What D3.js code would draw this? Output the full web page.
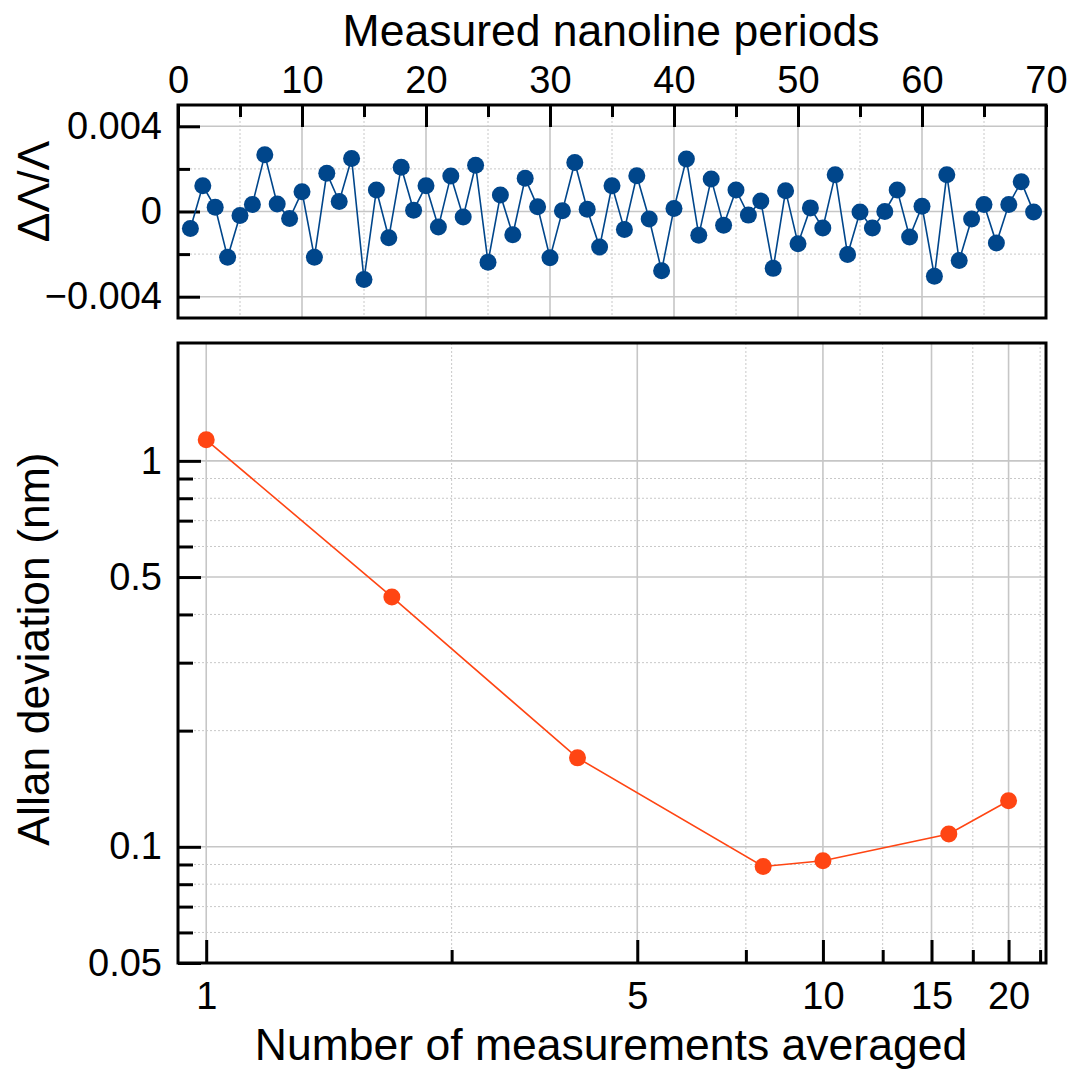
<!DOCTYPE html>
<html>
<head>
<meta charset="utf-8">
<script src="https://cdn.jsdelivr.net/npm/d3@7"></script>
<style>
  html, body { margin: 0; padding: 0; background: #fff; }
  svg { display: block; font-family: "Liberation Sans", Arial, Helvetica, sans-serif; }
  .domain { display: none; }
</style>
</head>
<body>
<svg id="chart" width="1072" height="1076"></svg>
<script>
// ---------- data ----------
const periodIndex = d3.range(1, 70);
const periodDeviation = [
  -0.00080, 0.00121, 0.00020, -0.00215, -0.00019, 0.00033, 0.00266, 0.00035, -0.00033, 0.00093,
  -0.00215, 0.00180, 0.00047, 0.00249, -0.00319, 0.00101, -0.00123, 0.00208, 0.00006, 0.00121,
  -0.00073, 0.00167, -0.00026, 0.00217, -0.00238, 0.00077, -0.00109, 0.00156, 0.00022, -0.00217,
  0.00003, 0.00230, 0.00011, -0.00167, 0.00121, -0.00085, 0.00168, -0.00035, -0.00278, 0.00014,
  0.00247, -0.00112, 0.00153, -0.00065, 0.00101, -0.00017, 0.00049, -0.00267, 0.00097, -0.00151,
  0.00017, -0.00078, 0.00172, -0.00202, -0.00002, -0.00078, 0.00000, 0.00101, -0.00120, 0.00025,
  -0.00304, 0.00173, -0.00230, -0.00035, 0.00033, -0.00148, 0.00033, 0.00140, -0.00002
];
const numAveraged = [1, 2, 4, 8, 10, 16, 20];
const allanDeviation = [1.134, 0.444, 0.170, 0.0889, 0.0920, 0.1079, 0.1316];

const topXMajor = [0, 10, 20, 30, 40, 50, 60, 70];
const topXMinor = [5, 15, 25, 35, 45, 55, 65];
const topYMajor = [-0.004, 0, 0.004];
const topYMinor = [-0.002, 0.002];
const botXMajor = [1, 5, 10, 15, 20];
const botXMinor = [2.5, 7.5, 12.5, 17.5, 22.5];
const botYMajor = [0.05, 0.1, 0.5, 1];
const botYMinor = [0.06, 0.07, 0.08, 0.09, 0.2, 0.3, 0.4, 0.6, 0.7, 0.8, 0.9];

const topTitle = "Measured nanoline periods";
const topYTitle = "ΔΛ/Λ";
const botYTitle = "Allan deviation (nm)";
const botXTitle = "Number of measurements averaged";

// ---------- layout ----------
const svg = d3.select("#chart");
const L = 178, R = 1046;
const top1 = 105, bot1 = 318;
const top2 = 343, bot2 = 963;
const blue = "#00468b", orange = "#ff4513";
const gridMajor = "#c6c6c6", gridMinor = "#c8c8c8";
const tickFont = 38, titleFont = 44.5;

const x1 = d3.scaleLinear().domain([0, 70]).range([L, R]);
const y1 = d3.scaleLinear().domain([-0.005, 0.005]).range([bot1, top1]);
const x2 = d3.scaleLog().domain([0.9, 23]).range([L, R]);
const y2 = d3.scaleLog().domain([0.05, 2.02]).range([bot2, top2]);

function styleTicks(g, w) {
  g.selectAll(".tick line").attr("stroke", "#000").attr("stroke-width", w);
  g.selectAll(".tick text").attr("font-size", tickFont).attr("fill", "#000")
    .attr("font-family", '"Liberation Sans", Arial, Helvetica, sans-serif');
}
function gridV(x, vals, y0, y1p, dashed) {
  svg.append("g").selectAll("line").data(vals).join("line")
    .attr("x1", d => x(d)).attr("x2", d => x(d)).attr("y1", y0).attr("y2", y1p)
    .attr("stroke", dashed ? gridMinor : gridMajor)
    .attr("stroke-width", dashed ? 1 : 1.6)
    .attr("stroke-dasharray", dashed ? "2,2" : null);
}
function gridH(y, vals, dashed) {
  svg.append("g").selectAll("line").data(vals).join("line")
    .attr("x1", L).attr("x2", R).attr("y1", d => y(d)).attr("y2", d => y(d))
    .attr("stroke", dashed ? gridMinor : gridMajor)
    .attr("stroke-width", dashed ? 1 : 1.6)
    .attr("stroke-dasharray", dashed ? "2,2" : null);
}

// ---------- top panel ----------
gridV(x1, topXMinor, top1, bot1, true);
gridV(x1, topXMajor.slice(1, -1), top1, bot1, false);
gridH(y1, topYMinor, true);
gridH(y1, topYMajor, false);

const fmtTop = d => d === 0 ? "0" : (d < 0 ? "\u2212" : "") + Math.abs(d).toFixed(3);

const gTx = svg.append("g").attr("transform", `translate(0,${top1})`)
  .call(d3.axisTop(x1).tickValues(topXMajor).tickSize(-22).tickPadding(12).tickFormat(d3.format("d")));
styleTicks(gTx, 3);
const gTxm = svg.append("g").attr("transform", `translate(0,${top1})`)
  .call(d3.axisTop(x1).tickValues(topXMinor).tickSize(-12).tickFormat(""));
styleTicks(gTxm, 3);
const gTy = svg.append("g").attr("transform", `translate(${L},0)`)
  .call(d3.axisLeft(y1).tickValues(topYMajor).tickSize(-22).tickPadding(16).tickFormat(fmtTop));
styleTicks(gTy, 3);
const gTym = svg.append("g").attr("transform", `translate(${L},0)`)
  .call(d3.axisLeft(y1).tickValues(topYMinor).tickSize(-12).tickFormat(""));
styleTicks(gTym, 3);

const topData = periodIndex.map((d, i) => ({ x: d, y: periodDeviation[i] }));
svg.append("path").datum(topData)
  .attr("fill", "none").attr("stroke", blue).attr("stroke-width", 1.6)
  .attr("d", d3.line().x(d => x1(d.x)).y(d => y1(d.y)));
svg.append("g").selectAll("circle").data(topData).join("circle")
  .attr("cx", d => x1(d.x)).attr("cy", d => y1(d.y)).attr("r", 8.5).attr("fill", blue);

svg.append("rect").attr("x", L).attr("y", top1).attr("width", R - L).attr("height", bot1 - top1)
  .attr("fill", "none").attr("stroke", "#000").attr("stroke-width", 3);

svg.append("text").attr("x", (L + R) / 2 - 1).attr("y", 46).attr("text-anchor", "middle")
  .attr("font-size", titleFont).text(topTitle);
svg.append("text").attr("transform", `translate(49,${(top1 + bot1) / 2 - 20}) rotate(-90)`)
  .attr("text-anchor", "middle").attr("font-size", titleFont).text(topYTitle);

// ---------- bottom panel ----------
gridV(x2, botXMinor, top2, bot2, true);
gridV(x2, botXMajor, top2, bot2, false);
gridH(y2, botYMinor, true);
gridH(y2, botYMajor.slice(1), false);

const gBx = svg.append("g").attr("transform", `translate(0,${bot2})`)
  .call(d3.axisBottom(x2).tickValues(botXMajor).tickSize(-23).tickPadding(19).tickFormat(d3.format("d")));
styleTicks(gBx, 3);
const gBxm = svg.append("g").attr("transform", `translate(0,${bot2})`)
  .call(d3.axisBottom(x2).tickValues(botXMinor).tickSize(-13).tickFormat(""));
styleTicks(gBxm, 3);
const gBy = svg.append("g").attr("transform", `translate(${L},0)`)
  .call(d3.axisLeft(y2).tickValues(botYMajor).tickSize(-23).tickPadding(16).tickFormat(d => String(d)));
styleTicks(gBy, 3);
const gBym = svg.append("g").attr("transform", `translate(${L},0)`)
  .call(d3.axisLeft(y2).tickValues(botYMinor).tickSize(-15).tickFormat(""));
styleTicks(gBym, 3);

const botData = numAveraged.map((d, i) => ({ x: d, y: allanDeviation[i] }));
svg.append("path").datum(botData)
  .attr("fill", "none").attr("stroke", orange).attr("stroke-width", 1.6)
  .attr("d", d3.line().x(d => x2(d.x)).y(d => y2(d.y)));
svg.append("g").selectAll("circle").data(botData).join("circle")
  .attr("cx", d => x2(d.x)).attr("cy", d => y2(d.y)).attr("r", 8.5).attr("fill", orange);

svg.append("rect").attr("x", L).attr("y", top2).attr("width", R - L).attr("height", bot2 - top2)
  .attr("fill", "none").attr("stroke", "#000").attr("stroke-width", 3);

svg.append("text").attr("x", (L + R) / 2 - 1).attr("y", 1060).attr("text-anchor", "middle")
  .attr("font-size", titleFont).text(botXTitle);
svg.append("text").attr("transform", `translate(49,${(top2 + bot2) / 2 - 4}) rotate(-90)`)
  .attr("text-anchor", "middle").attr("font-size", titleFont).text(botYTitle);
</script>
</body>
</html>
